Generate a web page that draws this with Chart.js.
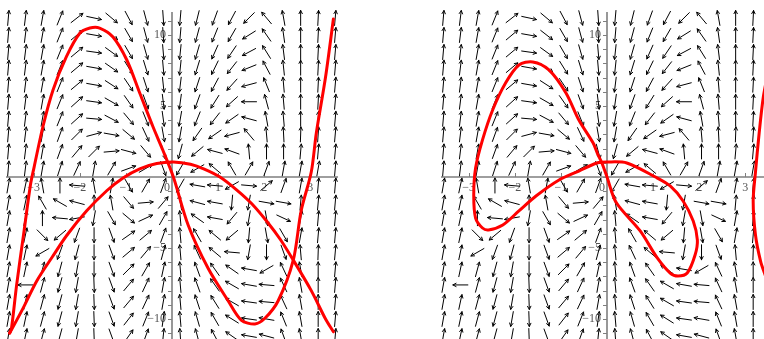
<!DOCTYPE html>
<html>
<head>
<meta charset="utf-8">
<script src="https://cdn.jsdelivr.net/npm/chart.js@4.4.1/dist/chart.umd.min.js"></script>
<style>
  html, body { margin: 0; padding: 0; background: #fff; overflow: hidden; }
  body { width: 764px; height: 339px; position: relative; }
  canvas { position: absolute; top: 0; }
  #leftPlot { left: 0; }
  #rightPlot { left: 435px; }
</style>
</head>
<body>
<canvas id="leftPlot" width="345" height="346"></canvas>
<canvas id="rightPlot" width="345" height="346"></canvas>
<script>
"use strict";

// direction field grid (same field in both panels)
const xGrid = [-3.55, -3.18, -2.81, -2.43, -2.06, -1.69, -1.31, -0.94, -0.57, -0.19,
               0.18, 0.55, 0.93, 1.30, 1.67, 2.05, 2.42, 2.79, 3.17, 3.54];
const yGrid = [11.2, 10.0, 8.8, 7.7, 6.5, 5.3, 4.1, 3.0, 1.8, 0.6,
               -0.6, -1.8, -2.9, -4.1, -5.3, -6.5, -7.6, -8.8, -10.0, -11.2];

// arrow directions in degrees (screen, counter-clockwise from +x), one row per yGrid value
const fieldAngles = [
  [85, 83, 80, 68, 38, -12, -40, -62, -75, -86, -95, -104, -110, -118, -135, 130, 100, 90, 87, 85],
  [85, 83, 80, 68, 40, -10, -38, -60, -75, -86, -95, -105, -112, -120, -148, 125, 98, 90, 87, 85],
  [85, 83, 80, 68, 40, -8, -36, -60, -74, -85, -96, -106, -114, -124, -152, 122, 97, 90, 87, 85],
  [85, 83, 80, 68, 40, -10, -35, -58, -73, -85, -96, -107, -116, -128, -158, 118, 96, 90, 87, 85],
  [85, 83, 80, 68, 40, -10, -33, -56, -72, -84, -97, -108, -118, -132, -165, 112, 95, 90, 87, 85],
  [85, 83, 80, 68, 42, -8, -30, -55, -70, -83, -98, -110, -122, -138, 180, 105, 95, 90, 87, 85],
  [85, 83, 80, 68, 42, -5, -28, -50, -68, -82, -100, -112, -128, -145, 165, 100, 95, 90, 87, 85],
  [85, 83, 80, 70, 45, 15, -10, -40, -65, -80, -100, -125, -145, -165, 130, 95, 93, 88, 86, 85],
  [85, 83, 80, 70, 50, 45, 5, -15, -50, -75, -105, -140, 165, 160, 95, 90, 90, 85, 85, 85],
  [85, 83, 80, 72, 65, 80, 60, 20, 30, -70, -120, -150, 140, 120, 60, 70, 80, 80, 80, 85],
  [80, 78, 100, 90, 175, 100, 80, -60, 60, 70, -120, 170, 175, -150, -5, 40, 70, 80, 85, 85],
  [80, 78, 120, 150, 165, 90, 100, -50, 5, 50, 100, 165, 170, -95, -100, -10, -10, 85, 85, 85],
  [80, 78, 90, 175, -170, -100, -60, -40, 25, 60, 95, 145, 170, -130, -100, -80, -25, 80, 85, 85],
  [80, 78, -45, -140, -110, -90, -70, 35, 40, 70, 95, 120, 140, -140, -95, -80, -60, 80, 85, 85],
  [80, 78, -150, -110, -105, -90, -70, 40, 50, 75, 95, 115, 140, 175, -100, -90, -70, 95, 88, 85],
  [80, 78, 75, -105, -100, -90, -70, 45, 60, 78, 95, 110, 125, 145, 170, -150, 115, 100, 90, 85],
  [80, 180, 75, -105, -100, -88, -70, 50, 65, 80, 95, 110, 125, 150, 170, 175, 115, 100, 90, 85],
  [80, 78, 75, -105, -100, -88, -70, 50, 65, 80, 95, 108, 122, 150, 172, 175, 115, 100, 90, 85],
  [80, 78, 75, -105, -100, -88, -70, 52, 68, 82, 95, 106, 120, 148, 172, 170, 112, 100, 90, 85],
  [80, 78, 75, -105, -100, -88, -70, 55, 70, 84, 94, 105, 118, 145, 170, 165, 110, 100, 90, 85]
];

// left panel solution curves
const leftSteepX = [3.50, 3.33, 3.13, 3.02, 2.80, 2.63, 2.30, 2.02, 1.80, 1.50, 1.22, 0.78, 0.35, 0.03,
                    -0.20, -0.41, -0.70, -0.98, -1.28, -1.57, -1.78, -2.00, -2.29, -2.58, -2.80,
                    -2.99, -3.07, -3.22, -3.37, -3.48, -3.52];
const leftSteepY = [11.13, 7.04, 3.10, 0.35, -2.39, -5.85, -8.73, -9.93, -10.35, -10.07, -8.73, -6.41, -3.38, 0.0,
                    1.90, 3.52, 5.92, 8.24, 9.86, 10.49, 10.49, 10.12, 8.47, 6.13, 3.54,
                    0.70, -0.56, -4.08, -7.61, -10.63, -10.99];
const leftCapX = [-3.52, -3.24, -2.93, -2.59, -2.28, -1.85, -1.41, -1.07, -0.70, -0.33, 0.03, 0.40, 0.70,
                  1.04, 1.40, 1.72, 2.05, 2.35, 2.63, 3.02, 3.33, 3.50];
const leftCapY = [-10.99, -9.30, -7.30, -5.60, -4.10, -2.38, -0.95, -0.08, 0.58, 0.95, 1.06, 0.90, 0.56,
                  0.0, -0.90, -1.85, -3.10, -4.40, -5.85, -8.00, -10.00, -10.90];

// right panel solution curves
const rightLoopX = [0.0, 0.20, 0.72, 1.09, 1.37, 1.54, 1.74, 1.91, 1.96, 1.87, 1.65, 1.37, 1.05, 0.43, 0.0,
                    -0.22, -0.61, -1.04, -1.54, -1.91, -2.26, -2.57, -2.70, -2.85, -2.89, -2.85, -2.70,
                    -2.48, -2.20, -1.91, -1.61, -1.26, -0.89, -0.61, -0.30, -0.20, -0.11, 0.0];
const rightLoopY = [0.0, -1.80, -3.80, -5.70, -6.76, -6.97, -6.76, -5.49, -4.44, -3.10, -1.69, -0.63, 0.0, 0.99, 1.06,
                    0.99, 0.42, -0.21, -1.34, -2.39, -3.38, -3.73, -3.59, -2.89, -1.27, 0.63, 2.61,
                    4.72, 6.62, 7.89, 8.10, 7.54, 5.92, 4.01, 2.39, 1.60, 0.99, 0.0];
const rightEdgeX = [3.50, 3.39, 3.30, 3.22, 3.17, 3.22, 3.33, 3.43, 3.50];
const rightEdgeY = [7.50, 5.63, 3.10, 0.35, -1.69, -4.08, -5.92, -6.90, -7.50];

// axis labels
const xTickLabels = [-3, -2, -1, 1, 2, 3];
const yTickLabels = [-10, -5, 5, 10];

/**
 * Pairs two arrays into {x, y} points
 */
function zip(xs, ys) {
    return xs.map((v, i) => ({ x: v, y: ys[i] }));
}

const fieldPts = [];
const fieldAng = [];
yGrid.forEach((yv, j) => {
    xGrid.forEach((xv, i) => {
        fieldPts.push({ x: xv, y: yv });
        fieldAng.push(fieldAngles[j][i]);
    });
});

// Maple-like axes through the origin
const mapleAxes = {
    id: 'mapleAxes',
    beforeDatasetsDraw(chart) {
        const { ctx, scales: { x, y } } = chart;
        const x0 = x.getPixelForValue(0);
        const y0 = y.getPixelForValue(0);
        ctx.save();
        ctx.strokeStyle = '#7f7f7f';
        ctx.lineWidth = 1.6;
        ctx.beginPath();
        ctx.moveTo(x.left, y0);
        ctx.lineTo(x.right, y0);
        ctx.moveTo(x0, y.top);
        ctx.lineTo(x0, y.bottom);
        ctx.stroke();

        ctx.lineWidth = 1;
        ctx.beginPath();
        for (let v = Math.ceil(x.min); v <= Math.floor(x.max); v++) {
            const px = Math.round(x.getPixelForValue(v)) + 0.5;
            ctx.moveTo(px, y0);
            ctx.lineTo(px, y0 - 4);
        }
        for (let v = Math.ceil(y.min); v <= Math.floor(y.max); v++) {
            const py = Math.round(y.getPixelForValue(v)) + 0.5;
            ctx.moveTo(x0 - 4, py);
            ctx.lineTo(x0, py);
        }
        ctx.stroke();

        ctx.fillStyle = '#555';
        ctx.font = '12px "Liberation Serif", "DejaVu Serif", serif';
        ctx.textBaseline = 'middle';
        ctx.textAlign = 'center';
        xTickLabels.forEach(v => {
            const label = (v < 0 ? '\u2212' : '') + Math.abs(v);
            ctx.fillText(label, x.getPixelForValue(v), y0 + 11);
        });
        ctx.fillText('0', x0 - 5, y0 + 11);
        ctx.textAlign = 'right';
        yTickLabels.forEach(v => {
            const label = (v < 0 ? '\u2212' : '') + Math.abs(v);
            ctx.fillText(label, x0 - 6, y.getPixelForValue(v));
        });
        ctx.restore();
    }
};

// draws an arrow at every point of the field dataset, right after that dataset
const fieldArrows = {
    id: 'fieldArrows',
    afterDatasetDraw(chart, args) {
        if (!chart.data.datasets[args.index].isField) return;
        const ctx = chart.ctx;
        const half = 7.5;
        const head = 3.6;
        ctx.save();
        ctx.strokeStyle = '#000';
        ctx.lineWidth = 1;
        ctx.lineCap = 'round';
        args.meta.data.forEach((pt, i) => {
            const a = -fieldAng[i] * Math.PI / 180;
            const dx = Math.cos(a), dy = Math.sin(a);
            const tx = pt.x + dx * half, ty = pt.y + dy * half;
            ctx.beginPath();
            ctx.moveTo(pt.x - dx * half, pt.y - dy * half);
            ctx.lineTo(tx, ty);
            const b1 = a + Math.PI - 0.48, b2 = a + Math.PI + 0.48;
            ctx.moveTo(tx + Math.cos(b1) * head, ty + Math.sin(b1) * head);
            ctx.lineTo(tx, ty);
            ctx.lineTo(tx + Math.cos(b2) * head, ty + Math.sin(b2) * head);
            ctx.stroke();
        });
        ctx.restore();
    }
};

function curveSet(points) {
    return {
        data: points,
        showLine: true,
        borderColor: '#ff0000',
        borderWidth: 3,
        borderCapStyle: 'round',
        borderJoinStyle: 'round',
        pointRadius: 0,
        tension: 0.3,
        order: 0,
        clip: 2
    };
}

function buildPlot(id, curves) {
    return new Chart(document.getElementById(id), {
        type: 'scatter',
        data: {
            datasets: curves.map(curveSet).concat([{
                isField: true,
                data: fieldPts,
                pointRadius: 0,
                order: 1,
                clip: 10
            }])
        },
        options: {
            responsive: false,
            animation: false,
            devicePixelRatio: 1,
            events: [],
            layout: { padding: { left: 6, right: 7, top: 12, bottom: 0 } },
            scales: {
                x: { type: 'linear', min: -3.6, max: 3.6, display: false },
                y: { type: 'linear', min: -11.9, max: 11.62, display: false }
            },
            plugins: { legend: { display: false }, tooltip: { enabled: false } }
        },
        plugins: [mapleAxes, fieldArrows]
    });
}

buildPlot('leftPlot', [zip(leftSteepX, leftSteepY), zip(leftCapX, leftCapY)]);
buildPlot('rightPlot', [zip(rightLoopX, rightLoopY), zip(rightEdgeX, rightEdgeY)]);
</script>
</body>
</html>
